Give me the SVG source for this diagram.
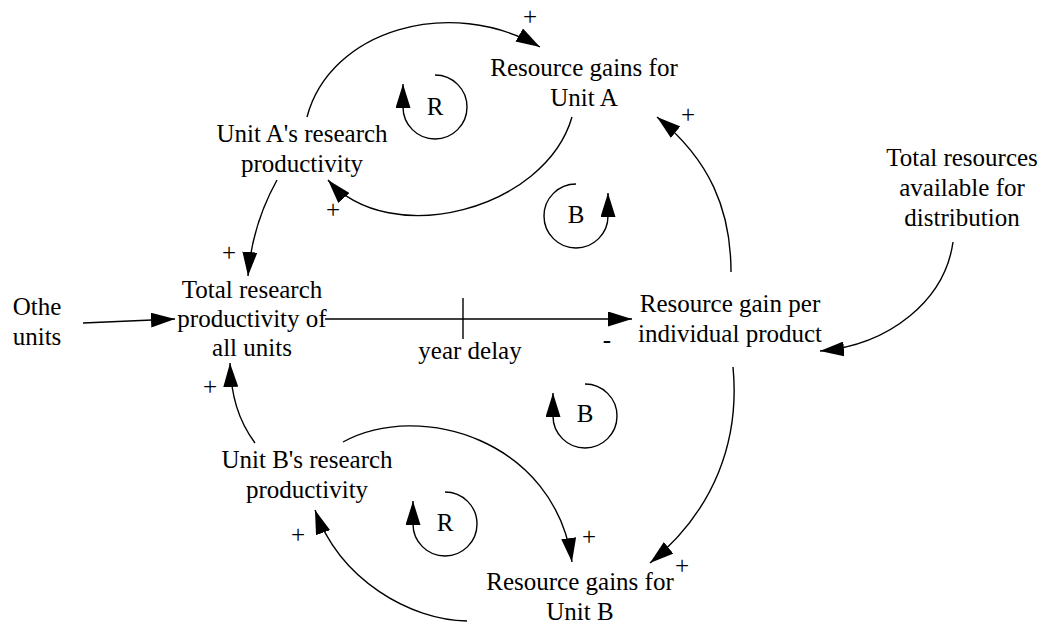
<svg xmlns="http://www.w3.org/2000/svg" width="1047" height="623" viewBox="0 0 1047 623">
<style>
text{font-family:"Liberation Serif","Times New Roman",serif;font-size:25px;fill:#000;text-anchor:middle}
.c{fill:none;stroke:#000;stroke-width:1.4;marker-end:url(#ah)}
.p{fill:none;stroke:#000;stroke-width:1.4}
</style>
<defs>
<marker id="ah" markerUnits="userSpaceOnUse" markerWidth="24" markerHeight="15" refX="24" refY="7.5" orient="auto" viewBox="0 0 24 15"><path d="M0,0 L24,7.5 L0,15 z" fill="#000"/></marker>
</defs>
<rect width="1047" height="623" fill="#fff"/>
<g id="connectors">
<path class="c" d="M307,117 C330,30 450,-5 540,47"/>
<path class="c" d="M572,117 C545,210 390,250 328,180"/>
<path class="c" d="M277,180 Q252,225 248,276"/>
<path class="c" d="M83,323 L175,319"/>
<path class="c" d="M325,319 L632,319"/>
<path class="p" d="M463,298 L463,339"/>
<path class="c" d="M731,272 C731,210 710,160 657,117"/>
<path class="c" d="M953,242 C945,300 890,345 820,351"/>
<path class="c" d="M733,367 C740,440 715,510 650,563"/>
<path class="c" d="M255,443 C238,420 231,395 230,363"/>
<path class="c" d="M343,442 C420,400 555,440 572,562"/>
<path class="c" d="M467,621 C410,620 340,580 315,510"/>
</g>
<g id="polarities">
<text x="530" y="25">+</text>
<text x="333" y="218">+</text>
<text x="229" y="261">+</text>
<text x="688" y="123">+</text>
<text x="210" y="395">+</text>
<text x="589" y="545">+</text>
<text x="682" y="574">+</text>
<text x="298" y="543">+</text>
<text x="607" y="348">-</text>
</g>
<g id="loop-R-top"><path class="c" d="M435,75 A32,32 0 1 1 403,107 L403,84"/><text x="435" y="115">R</text></g>
<g id="loop-B-top"><path class="c" d="M576,184 A32,32 0 1 0 608,216 L608,193"/><text x="576" y="223">B</text></g>
<g id="loop-B-bottom"><path class="c" d="M585,384 A32,32 0 1 1 553,416 L553,393"/><text x="585" y="422">B</text></g>
<g id="loop-R-bottom"><path class="c" d="M445,492 A32,32 0 1 1 413,524 L413,501"/><text x="445" y="531">R</text></g>
<g id="node-rg-a"><text x="584" y="76">Resource gains for</text><text x="584" y="106">Unit A</text></g>
<g id="node-a-prod"><text x="302" y="142">Unit A's research</text><text x="302" y="172">productivity</text></g>
<g id="node-total-prod"><text x="252" y="298">Total research</text><text x="252" y="327">productivity of</text><text x="252" y="356">all units</text></g>
<g id="node-other"><text x="37" y="315">Othe</text><text x="37" y="345">units</text></g>
<g id="node-delay"><text x="470" y="359">year delay</text></g>
<g id="node-rg-per"><text x="730" y="312">Resource gain per</text><text x="730" y="342">individual product</text></g>
<g id="node-total-res"><text x="962" y="166">Total resources</text><text x="962" y="196">available for</text><text x="962" y="226">distribution</text></g>
<g id="node-b-prod"><text x="307" y="468">Unit B's research</text><text x="307" y="498">productivity</text></g>
<g id="node-rg-b"><text x="580" y="590">Resource gains for</text><text x="580" y="620">Unit B</text></g>
</svg>
